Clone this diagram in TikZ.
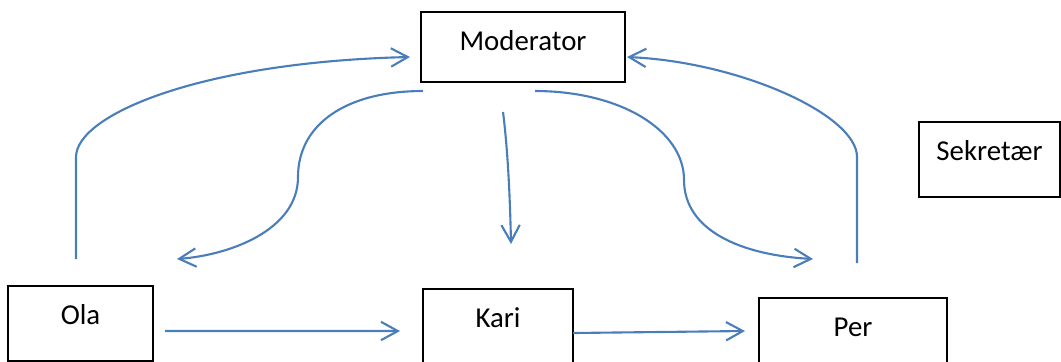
\documentclass[tikz,border=0pt]{standalone}
\usepackage{fontspec}
\setmainfont{Carlito}
\usetikzlibrary{arrows.meta}
\definecolor{linkblue}{RGB}{74,126,187}

\begin{document}
\begin{tikzpicture}[x=0.025cm, y=-0.025cm, every node/.style={font=\fontsize{20.5}{24}\selectfont}, >={Straight Barb[length=4.2mm,width=4.6mm]}, box/.style={draw, line width=0.9pt, anchor=north west, inner sep=0pt, outer sep=0pt, text height=0.95cm}, link/.style={->, linkblue, line width=1.5pt}]
	\useasboundingbox (0,0) rectangle (1061,362);
	\node[box, minimum width=5.1cm, text depth=0.8cm] (mod) at (421,12) {Moderator};
	\node[box, minimum width=3.625cm, text depth=0.925cm] (ola) at (8,286) {Ola};
	\node[box, minimum width=3.75cm, text depth=0.95cm] (kari) at (423,289) {Kari};
	\node[box, minimum width=4.7cm, text depth=0.725cm] (per) at (759,298) {Per};
	\node[box, minimum width=3.525cm, text depth=0.925cm] (sek) at (919,122) {Sekretær};
	\draw[link] ([shift={(12,7.5)}]ola.east) -- ([shift={(-23,4)}]kari.west);
	\draw[link] ([shift={(0,6)}]kari.east) -- ([shift={(-14,-0.5)}]per.west);
	\draw[link] ([shift={(-4.5,-27)}]ola.north) -- ++(0,-102) .. controls +(0,-42) and +(-210,5) .. ([shift={(-11,10)}]mod.west);
	\draw[link] ([shift={(4,-35)}]per.north) -- ++(0,-106) .. controls +(0,-42) and +(113,5) .. ([shift={(2,10)}]mod.east);
	\draw[link] ([shift={(2,9)}]mod.south west) .. controls +(-78,0) and +(0,-52) .. ++(-125,86) .. controls +(0,53) and +(53,-4) .. ([shift={(96.5,-27)}]ola.north);
	\draw[link] ([shift={(-20,30)}]mod.south) .. controls +(5,40) and +(-1,-45) .. ([shift={(13,-45)}]kari.north);
	\draw[link] ([shift={(12,9)}]mod.south) .. controls +(85,0) and +(0,-50) .. ++(149,89) .. controls +(0,50) and +(-73,-4) .. ([shift={(-40,-39)}]per.north);
\end{tikzpicture}
\end{document}
